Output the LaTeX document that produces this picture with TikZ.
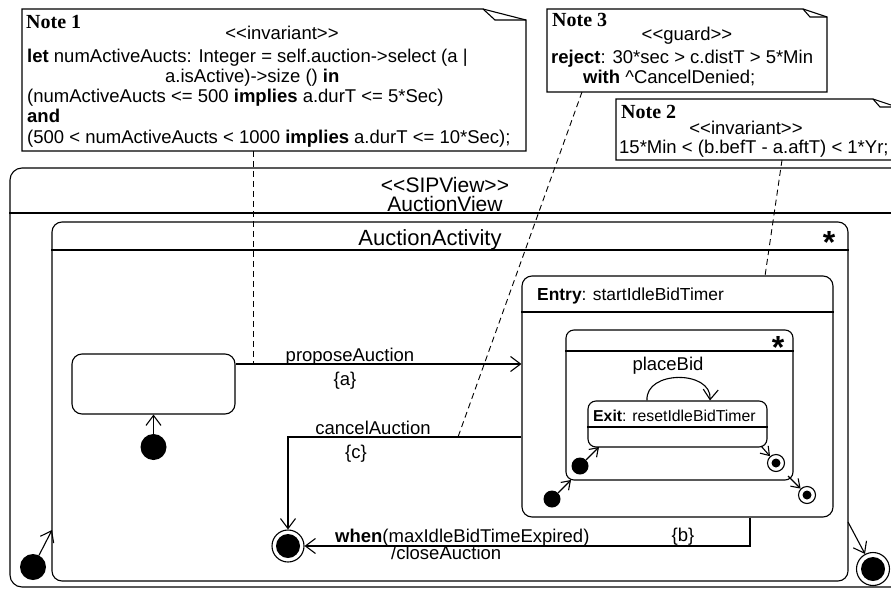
\documentclass[tikz,border=0pt]{standalone}
\usepackage{fontspec}
\newfontfamily\lblfont{Liberation Sans}
\newfontfamily\ttlfont{Liberation Serif}
\usetikzlibrary{arrows.meta}
\begin{document}
\begin{tikzpicture}[x=1pt,y=-1pt,
  ln/.style={line width=1.1pt},
  stbox/.style={draw, line width=1.1pt, rectangle, rounded corners=10pt, inner sep=0pt},
  smbox/.style={stbox, rounded corners=8pt},
  plain/.style={rectangle, inner sep=0pt, draw=none},
  dot/.style={circle, fill=black, inner sep=0pt},
  ring/.style={circle, draw, line width=1.1pt, inner sep=0pt, fill=white},
  tr/.style={line width=1.1pt, -{Straight Barb[length=10pt,width=15pt]}},
  trs/.style={line width=1.1pt, -{Straight Barb[length=8pt,width=11pt]}},
  notelink/.style={line width=0.9pt, dash pattern=on 6pt off 4pt},
  notebox/.style={line width=1.1pt, line join=miter},
  txt/.style={inner sep=0pt, font=\lblfont\fontsize{18.5}{20}\selectfont},
  stxt/.style={inner sep=0pt, font=\lblfont\fontsize{17.4}{19}\selectfont},
  xtxt/.style={inner sep=0pt, font=\lblfont\fontsize{15.8}{17}\selectfont},
  ttl/.style={inner sep=0pt, font=\ttlfont\bfseries\fontsize{20}{22}\selectfont},
  hd/.style={inner sep=0pt, font=\lblfont\fontsize{21}{22}\selectfont},
  star/.style={inner sep=0pt, font=\lblfont\bfseries\fontsize{32}{32}\selectfont},
]
\useasboundingbox (0,0) rectangle (891,589);
\clip (0,0) rectangle (891,589);

% ---------- Note 1
\node[plain, minimum width=504, minimum height=142] (note1) at (274,80) {};
\draw[notebox] (22,9) -- (483,9) -- (526,20) -- (526,151) -- (22,151) -- cycle;
\draw[notebox] (483,9) -- (495,20) -- (526,20);
\node[ttl, anchor=base west] (n1t) at (26,28) {Note 1};
\node[txt, anchor=base] (n1s) at (282,39) {<<invariant>>};
\node[txt, anchor=base west] (n1a) at (27,62) {\textbf{let} numActiveAucts: Integer = self.auction->select (a |};
\node[txt, anchor=base west] (n1b) at (165,82) {a.isActive)->size () \textbf{in}};
\node[txt, anchor=base west] (n1c) at (27,102) {(numActiveAucts <= 500 \textbf{implies} a.durT <= 5*Sec)};
\node[txt, anchor=base west] (n1d) at (27,122) {\textbf{and}};
\node[txt, anchor=base west] (n1e) at (27,143) {(500 < numActiveAucts < 1000 \textbf{implies} a.durT <= 10*Sec);};

% ---------- Note 3
\node[plain, minimum width=280, minimum height=83] (note3) at (687,50.5) {};
\draw[notebox] (547,9) -- (803,9) -- (827,17) -- (827,92) -- (547,92) -- cycle;
\draw[notebox] (803,9) -- (810,17) -- (827,17);
\node[ttl, anchor=base west] (n3t) at (552,27) {Note 3};
\node[txt, anchor=base] (n3s) at (687,40) {<<guard>>};
\node[txt, anchor=base west] (n3a) at (551,63) {\textbf{reject}: 30*sec > c.distT > 5*Min};
\node[txt, anchor=base west] (n3b) at (583,83) {\textbf{with} \textasciicircum CancelDenied;};

% ---------- Note 2
\node[plain, minimum width=290, minimum height=61] (note2) at (761,129.5) {};
\draw[notebox] (616,99) -- (873,99) -- (897,107) -- (897,160) -- (616,160) -- cycle;
\draw[notebox] (873,99) -- (880,107) -- (897,107);
\node[ttl, anchor=base west] (n2t) at (621,118) {Note 2};
\node[txt, anchor=base] (n2s) at (746,134) {<<invariant>>};
\node[txt, anchor=base west] (n2a) at (619,153) {15*Min < (b.befT - a.aftT) < 1*Yr;};

% ---------- SIPView outer state
\node[stbox, rounded corners=12pt, minimum width=950, minimum height=419] (sip) at (485,377.5) {};
\coordinate (d0) at (0,213);
\draw[ln] (sip.west |- d0) -- (sip.east |- d0);
\node[hd, anchor=base] (sipst) at (445,192) {<<SIPView>>};
\node[hd, anchor=base] (sipnm) at (445,211) {AuctionView};

% ---------- AuctionActivity
\node[stbox, minimum width=796, minimum height=359] (aa) at (450,401.5) {};
\coordinate (d1) at (0,250);
\draw[ln] (aa.west |- d1) -- (aa.east |- d1);
\node[hd, font=\lblfont\fontsize{22}{24}\selectfont, anchor=base] (aat) at (430,245) {AuctionActivity};
\node[star, anchor=base] (aastar) at (829,253) {*};

% ---------- simple state
\node[stbox, minimum width=163, minimum height=60] (simple) at (153.5,384) {};
\node[dot, minimum size=26] (i1) at (153.5,447) {};
\draw[tr] (i1) -- (simple);

% ---------- Entry composite
\node[stbox, minimum width=311, minimum height=241] (entry) at (677.5,396.5) {};
\coordinate (d2) at (0,312);
\draw[ln] (entry.west |- d2) -- (entry.east |- d2);
\node[stxt, anchor=base west] (entt) at (537,300) {\textbf{Entry}: startIdleBidTimer};

% ---------- inner composite
\node[smbox, minimum width=227, minimum height=150] (inner) at (679.5,405) {};
\coordinate (d3) at (0,351);
\draw[ln] (inner.west |- d3) -- (inner.east |- d3);
\node[star, anchor=base] (instar) at (778,358) {*};

% ---------- Exit state
\node[smbox, minimum width=179, minimum height=46] (exit) at (677.5,424) {};
\coordinate (d4) at (0,427);
\draw[ln] (exit.west |- d4) -- (exit.east |- d4);
\node[xtxt, anchor=base west] (exitt) at (593,421) {\textbf{Exit}: resetIdleBidTimer};

% placeBid self loop
\coordinate (lp1) at (647,0);
\coordinate (lp2) at (710,0);
\draw[tr] (exit.north -| lp1) .. controls (645,370) and (712,370) .. (exit.north -| lp2);
\node[txt, anchor=base] (pbt) at (668,370) {placeBid};

% inner initial / final
\node[dot, minimum size=17] (j1) at (580,466) {};
\coordinate (e1) at (599,447);
\draw[trs] (j1) -- (e1);
\node[ring, minimum size=17] (b1) at (776,463) {};
\fill (b1) circle (4.5pt);
\coordinate (e2) at (761,446);
\draw[trs] (e2) -- (b1);

\node[dot, minimum size=17] (j2) at (552,499) {};
\coordinate (e3) at (571,480);
\draw[trs] (j2) -- (e3);
\node[ring, minimum size=17] (b2) at (807,495) {};
\fill (b2) circle (4.5pt);
\coordinate (e4) at (788,476);
\draw[trs] (e4) -- (b2);

% ---------- final state of AuctionActivity
\node[ring, minimum size=32] (f1) at (288,546) {};
\fill (f1) circle (12pt);

% proposeAuction
\coordinate (pa) at (0,364);
\draw[tr] (simple.east |- pa) -- (entry.west |- pa);
\node[txt, anchor=base] (pat) at (350,361) {proposeAuction};
\node[txt, anchor=base] (pab) at (345,385) {\{a\}};

% cancelAuction
\coordinate (ca) at (0,437);
\draw[tr] (entry.west |- ca) -- (f1.north |- ca) -- (f1.north);
\node[txt, anchor=base] (cat) at (373,434) {cancelAuction};
\node[txt, anchor=base] (cab) at (356,458) {\{c\}};

% when(...)
\coordinate (wb) at (750,546);
\draw[tr] (entry.south -| wb) -- (wb) -- (f1.east);
\node[txt, anchor=base west] (wht) at (335,542) {\textbf{when}(maxIdleBidTimeExpired)};
\node[txt, anchor=base west] (whb) at (391,559) {/closeAuction};
\node[txt, anchor=base] (whc) at (683,541) {\{b\}};

% ---------- outer initial and final
\node[dot, minimum size=26] (i0) at (33,567) {};
\coordinate (t1) at (52,530);
\draw[tr] (i0) -- (t1);
\node[ring, minimum size=33] (f2) at (873,569) {};
\fill (f2) circle (12pt);
\coordinate (t2) at (848,522);
\draw[tr] (t2) -- (f2);

% ---------- note links
\coordinate (n1x) at (253,364);
\draw[notelink] (note1.south -| n1x) -- (n1x);
\coordinate (n3x) at (582,92);
\coordinate (n3y) at (458,437);
\draw[notelink] (n3x) -- (n3y);
\coordinate (n2x) at (782,160);
\coordinate (n2y) at (765,276);
\draw[notelink] (n2x) -- (n2y);
\end{tikzpicture}
\end{document}
